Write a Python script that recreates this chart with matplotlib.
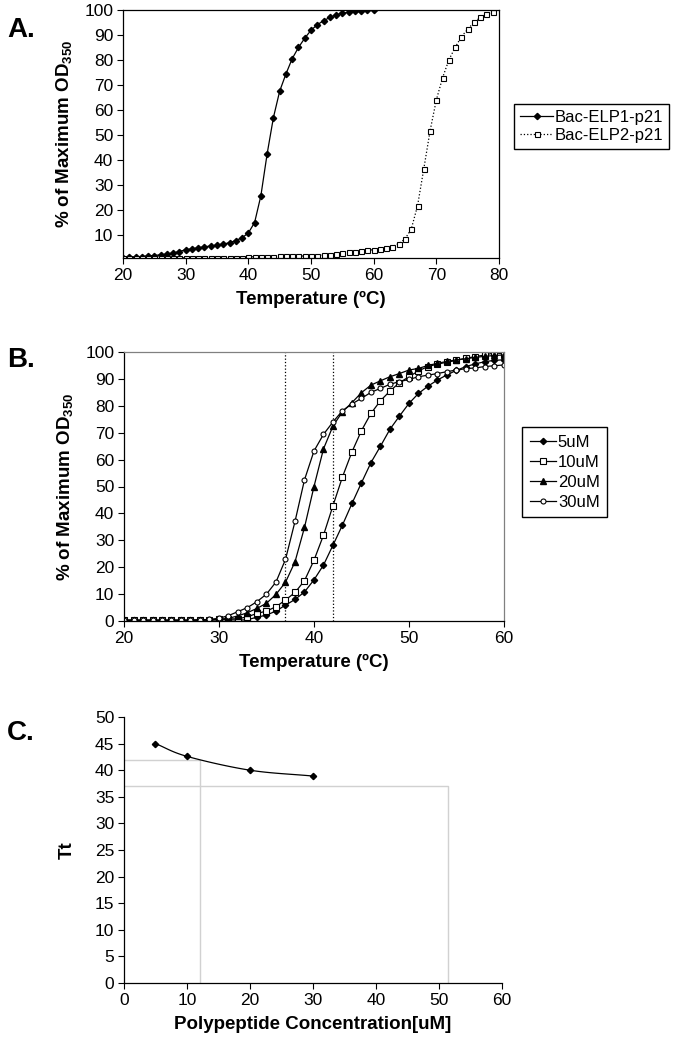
import numpy as np
import matplotlib
matplotlib.use("Agg")
import matplotlib.pyplot as plt

plt.rcParams["font.family"] = ["Liberation Sans", "DejaVu Sans"]
plt.rcParams["mathtext.fontset"] = "custom"
plt.rcParams["mathtext.rm"] = "Liberation Sans"
plt.rcParams["mathtext.bf"] = "Liberation Sans:bold"

# ---- data -----------------------------------------------------------------
tempA1 = np.arange(20, 61)
elp1 = [0.9, 1.0, 1.2, 1.3, 1.5, 1.7, 2.0, 2.3, 2.7, 3.3,
        4.0, 4.4, 4.8, 5.2, 5.5, 5.9, 6.3, 6.8, 7.7, 8.8,
        10.7, 14.9, 25.6, 42.4, 56.9, 67.5, 74.4, 80.5, 85.0, 88.7,
        91.9, 94.1, 95.7, 97.0, 98.1, 98.7, 99.1, 99.5, 99.7, 99.9, 100.0]
tempA2 = np.arange(20, 80)
elp2 = [0.8] * 20 + [1.2, 1.2, 1.3, 1.3, 1.3, 1.4, 1.4, 1.4, 1.5, 1.5,
                     1.6, 1.7, 1.9, 2.1, 2.3, 2.6, 3.0, 3.2, 3.5, 3.8,
                     4.0, 4.3, 4.7, 5.3, 6.5, 8.3, 12.3, 21.6, 36.4, 51.6,
                     64.0, 72.9, 80.0, 85.0, 89.3, 92.3, 95.0, 97.0, 98.4, 99.2]

tempB = np.arange(20, 61)
c5 = [0.3, 0.2, 0.2, 0.2, 0.2, 0.2, 0.2, 0.2, 0.3, 0.4,
      0.4, 0.5, 0.3, 0.5, 1.4, 2.2, 3.7, 5.9, 8.0, 10.8,
      15.3, 20.8, 28.2, 35.7, 43.7, 51.4, 58.9, 65.0, 71.3, 76.2,
      80.9, 84.6, 87.3, 89.6, 91.5, 93.2, 94.6, 95.6, 96.4, 96.9, 97.1]
c10 = [0.3, 0.3, 0.3, 0.3, 0.3, 0.3, 0.3, 0.3, 0.4, 0.5,
       0.6, 0.8, 0.8, 1.6, 2.8, 3.7, 5.3, 7.8, 10.6, 15.0,
       22.6, 31.9, 42.9, 53.6, 62.9, 70.8, 77.2, 81.9, 85.5, 88.6,
       90.8, 93.0, 94.6, 95.5, 96.2, 96.9, 97.7, 98.3, 98.9, 99.7, 99.3]
c20 = [0.2, 0.2, 0.2, 0.2, 0.2, 0.2, 0.2, 0.2, 0.3, 0.4,
       0.6, 1.0, 1.9, 3.1, 4.7, 6.6, 9.9, 14.4, 22.0, 34.8,
       50.0, 64.0, 72.5, 77.8, 81.2, 84.9, 87.7, 89.3, 90.8, 92.0,
       93.3, 93.9, 95.0, 95.8, 96.5, 97.1, 97.5, 98.0, 98.4, 98.7, 98.9]
c30 = [0.3, 0.3, 0.3, 0.3, 0.3, 0.3, 0.3, 0.3, 0.4, 0.6,
       1.0, 2.0, 3.5, 5.0, 7.2, 10.0, 14.5, 22.9, 37.0, 52.5,
       63.2, 69.4, 74.0, 78.2, 80.7, 82.8, 85.0, 86.5, 88.0, 89.0,
       89.8, 90.8, 91.4, 92.0, 92.7, 93.3, 93.8, 94.1, 94.6, 94.9, 95.2]
vlinesB = [37, 42]

conc = [5, 10, 20, 30]
tt = [45.0, 42.6, 40.0, 38.9]
guides = [(12, 42), (51.5, 37)]


def catmull(x, y, n=30):
    x = np.asarray(x, float); y = np.asarray(y, float)
    px = np.r_[2 * x[0] - x[1], x, 2 * x[-1] - x[-2]]
    py = np.r_[2 * y[0] - y[1], y, 2 * y[-1] - y[-2]]
    xs, ys = [], []
    t = np.linspace(0, 1, n)
    for i in range(1, len(px) - 2):
        for p, out in ((px, xs), (py, ys)):
            p0, p1, p2, p3 = p[i - 1], p[i], p[i + 1], p[i + 2]
            out.append(0.5 * (2 * p1 + (-p0 + p2) * t
                              + (2 * p0 - 5 * p1 + 4 * p2 - p3) * t ** 2
                              + (-p0 + 3 * p1 - 3 * p2 + p3) * t ** 3))
    return np.concatenate(xs), np.concatenate(ys)


W, H = 677, 1050
fig = plt.figure(figsize=(W / 100, H / 100), dpi=100)


def rect(l, t, r, b):
    return [l / W, 1 - b / H, (r - l) / W, (b - t) / H]


def style(ax):
    ax.tick_params(direction="out", length=4, width=0.8, labelsize=12.5, pad=3)
    for s in ax.spines.values():
        s.set_linewidth(0.9)


ylab = r"% of Maximum OD$_{\mathbf{350}}$"
lab_kw = dict(fontsize=13.5, fontweight="bold")
leg_kw = dict(loc="upper left", bbox_transform=fig.transFigure, fancybox=False,
              edgecolor="k", framealpha=1, fontsize=12, borderaxespad=0)

# ---- A ----
axA = fig.add_axes(rect(123, 10, 499, 258))
axA.plot(tempA1, elp1, "-", color="k", lw=0.9, marker="D", ms=3.2, label="Bac-ELP1-p21")
axA.plot(tempA2, elp2, ":", color="k", lw=0.9, marker="s", ms=3.6, mfc="white",
         mew=0.8, label="Bac-ELP2-p21")
axA.set_xlim(20, 80); axA.set_ylim(0.7, 100)
axA.set_xticks(range(20, 81, 10)); axA.set_yticks(range(10, 101, 10))
style(axA)
axA.set_xlabel("Temperature (ºC)", labelpad=6, **lab_kw)
axA.set_ylabel(ylab, labelpad=7, **lab_kw)
axA.legend(bbox_to_anchor=(514 / W, 1 - 104 / H), handlelength=2.0,
           handletextpad=0.1, borderpad=0.35, labelspacing=0.2, **leg_kw)

# ---- B ----
axB = fig.add_axes(rect(124, 352, 504, 621))
for x in vlinesB:
    axB.plot([x, x], [0, 100], ":", color="k", lw=0.9)
axB.plot(tempB, c5, "-", color="k", lw=0.9, marker="D", ms=3.2, label="5uM")
axB.plot(tempB, c10, "-", color="k", lw=0.9, marker="s", ms=4, mfc="white", mew=0.8, label="10uM")
axB.plot(tempB, c20, "-", color="k", lw=0.9, marker="^", ms=4, label="20uM")
axB.plot(tempB, c30, "-", color="k", lw=0.9, marker="o", ms=3.6, mfc="white", mew=0.8, label="30uM")
axB.set_xlim(20, 60); axB.set_ylim(0, 100)
axB.set_xticks(range(20, 61, 10)); axB.set_yticks(range(0, 101, 10))
style(axB)
axB.spines["top"].set_color("0.5"); axB.spines["right"].set_color("0.5")
axB.set_xlabel("Temperature (ºC)", labelpad=6, **lab_kw)
axB.set_ylabel(ylab, labelpad=7, **lab_kw)
axB.legend(bbox_to_anchor=(522 / W, 1 - 427 / H), handlelength=1.6,
           handletextpad=0.1, borderpad=0.45, labelspacing=0.3, **leg_kw)

# ---- C ----
axC = fig.add_axes(rect(124, 717, 502, 983))
for gx, gy in guides:
    axC.plot([0, gx, gx], [gy, gy, 0], color="0.82", lw=1.0)
sx, sy = catmull(conc, tt)
axC.plot(sx, sy, "-", color="k", lw=0.9)
axC.plot(conc, tt, "D", color="k", ms=3.2)
axC.set_xlim(0, 60); axC.set_ylim(0, 50)
axC.set_xticks(range(0, 61, 10)); axC.set_yticks(range(0, 51, 5))
style(axC)
axC.spines["top"].set_visible(False); axC.spines["right"].set_visible(False)
axC.set_xlabel("Polypeptide Concentration[uM]", labelpad=6, **lab_kw)
axC.set_ylabel("Tt", labelpad=14, **lab_kw)

for txt, y in (("A.", 37), ("B.", 367), ("C.", 740)):
    fig.text(7 / W, 1 - y / H, txt, fontsize=20, fontweight="bold", va="baseline")

fig.savefig("out.png", dpi=100)
